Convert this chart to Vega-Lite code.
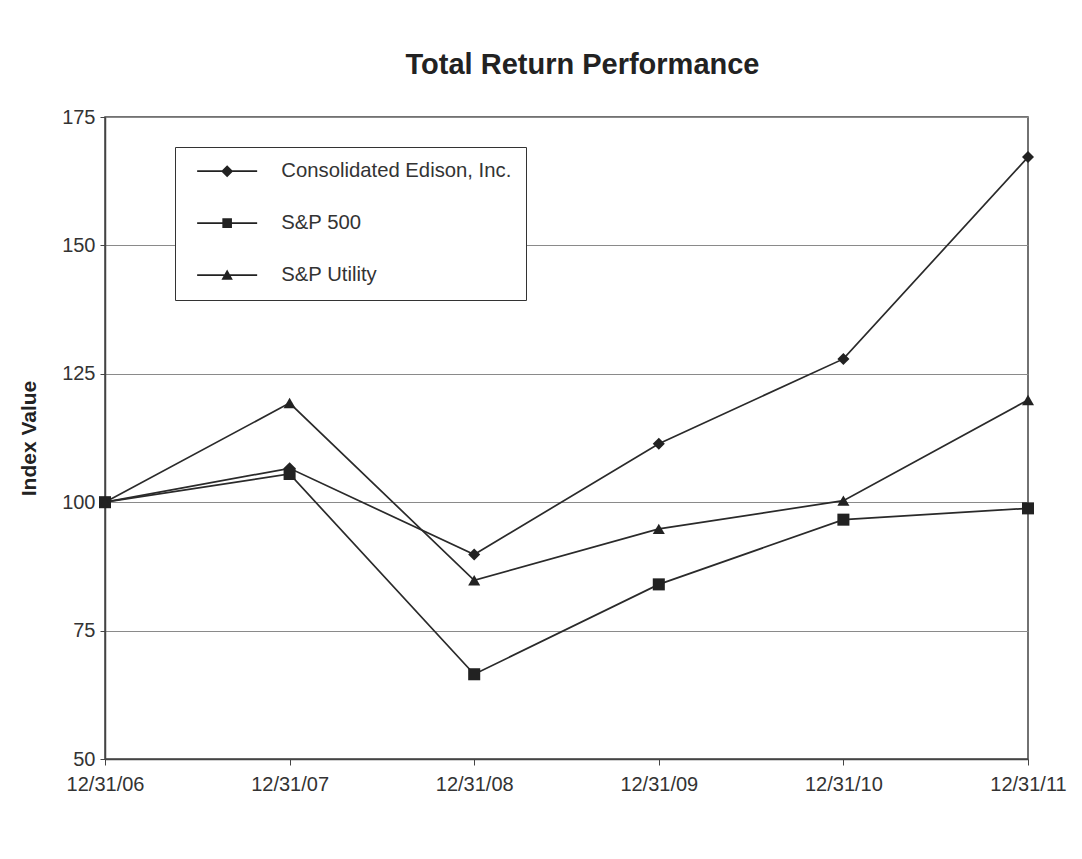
{
  "$schema": "https://vega.github.io/schema/vega-lite/v6.json",
  "width": 923,
  "height": 642,
  "autosize": "none",
  "padding": {"left": 105, "top": 117, "right": 54, "bottom": 100},
  "background": "white",
  "title": {"text": "Total Return Performance", "font": "Liberation Sans", "fontSize": 29, "fontWeight": "bold", "color": "#222", "offset": 27, "dx": 16},
  "data": {"values": [
    {"date": "12/31/06", "series": "Consolidated Edison, Inc.", "value": 100},
    {"date": "12/31/07", "series": "Consolidated Edison, Inc.", "value": 106.6},
    {"date": "12/31/08", "series": "Consolidated Edison, Inc.", "value": 89.8},
    {"date": "12/31/09", "series": "Consolidated Edison, Inc.", "value": 111.4},
    {"date": "12/31/10", "series": "Consolidated Edison, Inc.", "value": 127.9},
    {"date": "12/31/11", "series": "Consolidated Edison, Inc.", "value": 167.2},
    {"date": "12/31/06", "series": "S&P 500", "value": 100},
    {"date": "12/31/07", "series": "S&P 500", "value": 105.5},
    {"date": "12/31/08", "series": "S&P 500", "value": 66.5},
    {"date": "12/31/09", "series": "S&P 500", "value": 84.0},
    {"date": "12/31/10", "series": "S&P 500", "value": 96.6},
    {"date": "12/31/11", "series": "S&P 500", "value": 98.8},
    {"date": "12/31/06", "series": "S&P Utility", "value": 100},
    {"date": "12/31/07", "series": "S&P Utility", "value": 119.3},
    {"date": "12/31/08", "series": "S&P Utility", "value": 84.8},
    {"date": "12/31/09", "series": "S&P Utility", "value": 94.8},
    {"date": "12/31/10", "series": "S&P Utility", "value": 100.3},
    {"date": "12/31/11", "series": "S&P Utility", "value": 119.9}
  ]},
  "encoding": {
    "x": {"field": "date", "type": "ordinal", "sort": null, "scale": {"type": "point", "padding": 0},
      "axis": {"title": null, "labelAngle": 0, "labelFont": "Liberation Sans", "labelFontSize": 20, "labelColor": "#333", "labelPadding": 9, "tickColor": "#444", "tickSize": 6, "domainColor": "#444", "domainWidth": 1.5, "grid": false}},
    "y": {"field": "value", "type": "quantitative", "scale": {"domain": [50, 175], "nice": false, "zero": false},
      "axis": {"values": [50, 75, 100, 125, 150, 175], "title": "Index Value", "titleFont": "Liberation Sans", "titleFontSize": 21, "titleFontWeight": "bold", "titleColor": "#222", "titlePadding": 22, "labelFont": "Liberation Sans", "labelFontSize": 20, "labelColor": "#333", "labelPadding": 5, "tickColor": "#444", "tickSize": 5, "domainColor": "#444", "domainWidth": 1.5, "grid": true, "gridColor": "#8a8a8a", "gridWidth": 1.2}}
  },
  "layer": [
    {"mark": {"type": "line", "color": "#2a2a2a", "strokeWidth": 1.7}, "encoding": {"detail": {"field": "series"}}},
    {"mark": {"type": "point", "filled": true, "color": "#222", "size": 145, "opacity": 1},
      "encoding": {"shape": {"field": "series", "scale": {"domain": ["Consolidated Edison, Inc.", "S&P 500", "S&P Utility"], "range": ["diamond", "square", "triangle-up"]}, "legend": null}}},
    {"transform": [{"filter": "false"}],
      "mark": {"type": "point", "filled": true, "color": "#222", "opacity": 1},
      "encoding": {"shape": {"field": "series",
        "scale": {"domain": ["Consolidated Edison, Inc.", "S&P 500", "S&P Utility"], "range": ["M-5,-0.13H5V0.13H-5ZM0,-1L1,0L0,1L-1,0Z", "M-5,-0.13H5V0.13H-5ZM-0.8,-0.8H0.8V0.8H-0.8Z", "M-5,-0.13H5V0.13H-5ZM0,-0.95L0.95,0.75H-0.95Z"]},
        "legend": {"title": null, "orient": "none", "legendX": 70, "legendY": 30, "padding": 14, "strokeColor": "#333", "fillColor": "white", "rowPadding": 31, "symbolSize": 144, "symbolOffset": 28, "labelOffset": 44, "symbolFillColor": "#222", "labelFont": "Liberation Sans", "labelFontSize": 20.3, "labelColor": "#333", "labelLimit": 400,
          "encode": {"symbols": {"update": {"fill": {"value": "#222"}, "opacity": {"value": 1}}}}}}}}
  ],
  "resolve": {"scale": {"shape": "independent"}, "legend": {"shape": "independent"}},
  "config": {"view": {"stroke": "#444", "strokeWidth": 1.5}}
}
